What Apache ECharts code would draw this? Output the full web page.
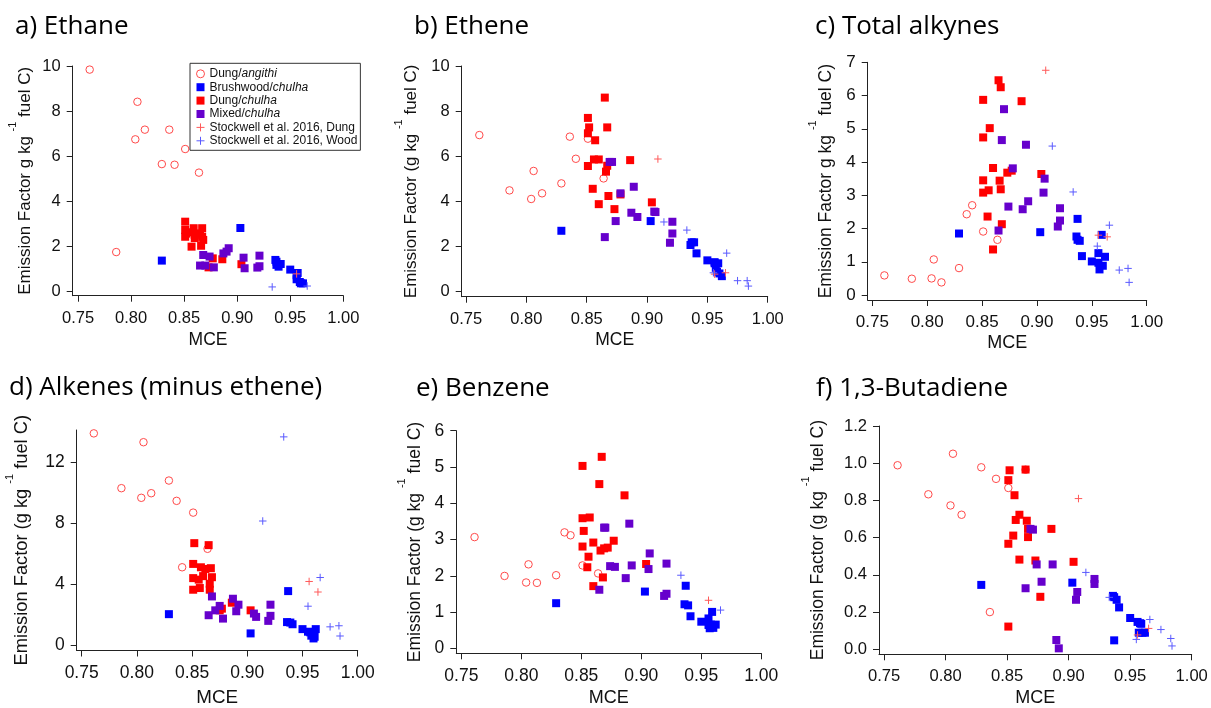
<!DOCTYPE html>
<html><head><meta charset="utf-8">
<script src="https://cdn.jsdelivr.net/npm/echarts@6/dist/echarts.min.js"></script>
<style>html,body{margin:0;padding:0;background:#fff}#c{width:1211px;height:708px}</style>
</head><body><div id="c"></div>
<script>
// ---------- DATA (MCE, emission factor g/kg fuel C) ----------
const seriesNames = ['Dung/angithi','Brushwood/chulha','Dung/chulha','Mixed/chulha','Stockwell et al. 2016, Dung','Stockwell et al. 2016, Wood'];
const panelTitles = ['a) Ethane','b) Ethene','c) Total alkynes','d) Alkenes (minus ethene)','e) Benzene','f) 1,3-Butadiene'];
const xTicks = [0.75,0.80,0.85,0.90,0.95,1.00];
const yTicksA = [0,2,4,6,8,10];
const yTicksB = [0,2,4,6,8,10];
const yTicksC = [0,1,2,3,4,5,6,7];
const yTicksD = [0,4,8,12];
const yTicksE = [0,1,2,3,4,5,6];
const yTicksF = [0,0.2,0.4,0.6,0.8,1.0,1.2];

// a) Ethane
const ethaneAngithi = [[0.761,9.84],[0.786,1.73],[0.804,6.74],[0.806,8.41],[0.813,7.17],[0.829,5.64],[0.836,7.17],[0.841,5.61],[0.851,6.31],[0.864,5.26]];
const ethaneBrush = [[0.829,1.35],[0.903,2.80],[0.936,1.38],[0.937,1.16],[0.937,1.30],[0.939,1.08],[0.941,1.20],[0.950,0.95],[0.956,0.70],[0.956,0.52],[0.957,0.80],[0.959,0.40],[0.960,0.34],[0.962,0.34]];
const ethaneDung = [[0.851,3.08],[0.851,2.71],[0.851,2.41],[0.852,2.55],[0.855,2.61],[0.857,1.97],[0.859,2.79],[0.860,2.49],[0.860,2.35],[0.865,2.56],[0.866,2.01],[0.867,2.79],[0.867,2.41],[0.868,2.27],[0.873,1.05],[0.877,1.45],[0.886,1.41],[0.904,1.19]];
const ethaneMixed = [[0.865,1.13],[0.868,1.60],[0.870,1.13],[0.874,1.53],[0.878,1.05],[0.887,1.67],[0.890,1.75],[0.892,1.90],[0.906,1.48],[0.907,1.01],[0.919,1.04],[0.921,1.57],[0.921,1.10]];
const ethaneStkDung = [[0.956,0.76]];
const ethaneStkWood = [[0.933,0.18],[0.966,0.22]];

// b) Ethene
const etheneAngithi = [[0.761,6.94],[0.786,4.49],[0.804,4.11],[0.806,5.35],[0.813,4.36],[0.829,4.80],[0.836,6.87],[0.841,5.89],[0.851,6.78],[0.864,5.02]];
const etheneBrush = [[0.829,2.70],[0.903,3.13],[0.936,2.07],[0.937,2.19],[0.939,2.19],[0.941,1.70],[0.950,1.39],[0.956,1.31],[0.956,1.26],[0.959,1.26],[0.957,1.06],[0.958,0.89],[0.960,0.81],[0.962,0.69]];
const etheneDung = [[0.865,8.60],[0.851,7.70],[0.852,7.28],[0.867,7.28],[0.851,7.02],[0.857,6.71],[0.851,5.57],[0.856,5.86],[0.860,5.86],[0.886,5.83],[0.867,5.58],[0.866,5.32],[0.855,4.56],[0.868,4.24],[0.860,3.88],[0.873,3.66],[0.878,4.31],[0.904,3.96]];
const etheneMixed = [[0.869,5.75],[0.871,5.75],[0.878,4.36],[0.889,4.65],[0.887,3.50],[0.892,3.31],[0.907,3.53],[0.906,3.55],[0.874,3.13],[0.921,3.10],[0.921,2.58],[0.919,2.17],[0.865,2.42]];
const etheneStkDung = [[0.909,5.88],[0.956,0.78],[0.965,0.84]];
const etheneStkWood = [[0.914,3.09],[0.933,2.73],[0.966,1.71],[0.955,0.84],[0.975,0.49],[0.983,0.49],[0.984,0.25]];

// c) Total alkynes
const alkynesAngithi = [[0.761,0.59],[0.786,0.49],[0.804,0.50],[0.806,1.07],[0.813,0.38],[0.829,0.81],[0.836,2.43],[0.841,2.70],[0.851,1.91],[0.864,1.66]];
const alkynesBrush = [[0.829,1.85],[0.903,1.89],[0.937,2.29],[0.936,1.76],[0.937,1.66],[0.939,1.63],[0.941,1.17],[0.950,1.01],[0.959,1.81],[0.956,1.26],[0.962,1.15],[0.960,0.88],[0.957,0.77],[0.956,0.97]];
const alkynesDung = [[0.851,5.87],[0.865,6.46],[0.867,6.25],[0.886,5.83],[0.857,5.02],[0.851,4.74],[0.860,3.82],[0.873,3.68],[0.877,3.74],[0.904,3.64],[0.851,3.45],[0.866,3.44],[0.851,3.08],[0.856,3.15],[0.867,3.18],[0.855,2.36],[0.868,2.13],[0.860,1.37]];
const alkynesMixed = [[0.870,5.59],[0.868,4.66],[0.890,4.52],[0.878,3.81],[0.907,3.50],[0.906,3.08],[0.892,2.82],[0.874,2.66],[0.887,2.58],[0.921,2.61],[0.921,2.24],[0.919,2.06],[0.865,1.94]];
const alkynesStkDung = [[0.908,6.76],[0.956,1.80],[0.964,1.75]];
const alkynesStkWood = [[0.914,4.48],[0.933,3.10],[0.966,2.10],[0.955,1.47],[0.975,0.75],[0.983,0.80],[0.984,0.38]];

// d) Alkenes (minus ethene)
const alkenesAngithi = [[0.761,13.88],[0.786,10.29],[0.804,9.66],[0.806,13.30],[0.813,9.96],[0.829,10.79],[0.836,9.46],[0.841,5.11],[0.851,8.69],[0.864,6.32]];
const alkenesBrush = [[0.829,2.04],[0.903,0.78],[0.937,3.55],[0.936,1.52],[0.939,1.49],[0.941,1.38],[0.950,1.06],[0.955,0.89],[0.957,0.85],[0.958,0.63],[0.960,0.45],[0.962,1.06],[0.959,0.84],[0.961,0.56]];
const alkenesDung = [[0.852,6.69],[0.865,6.56],[0.851,5.33],[0.858,5.11],[0.867,5.05],[0.862,5.00],[0.851,4.40],[0.860,4.53],[0.868,4.46],[0.856,4.30],[0.851,3.64],[0.857,3.75],[0.866,3.64],[0.866,4.03],[0.886,2.79],[0.875,2.29],[0.877,2.40],[0.903,2.29]];
const alkenesMixed = [[0.868,3.20],[0.875,2.58],[0.871,2.29],[0.865,1.97],[0.878,1.75],[0.887,3.05],[0.892,2.66],[0.890,2.23],[0.906,2.08],[0.908,1.86],[0.921,2.66],[0.921,1.93],[0.919,1.60]];
const alkenesStkDung = [[0.956,4.18],[0.964,3.49]];
const alkenesStkWood = [[0.933,13.65],[0.914,8.14],[0.966,4.44],[0.955,2.56],[0.975,1.21],[0.983,1.28],[0.984,0.61]];

// e) Benzene
const benzeneAngithi = [[0.761,3.07],[0.786,2.00],[0.804,1.82],[0.806,2.32],[0.813,1.81],[0.829,2.02],[0.836,3.20],[0.841,3.12],[0.851,2.29],[0.864,2.07]];
const benzeneBrush = [[0.829,1.25],[0.903,1.57],[0.937,1.73],[0.936,1.22],[0.939,1.19],[0.941,0.89],[0.950,0.74],[0.956,0.83],[0.959,1.01],[0.958,0.66],[0.962,0.66],[0.957,0.56],[0.960,0.57],[0.956,0.65]];
const benzeneDung = [[0.851,5.03],[0.867,5.28],[0.865,4.53],[0.886,4.22],[0.851,3.59],[0.857,3.61],[0.852,3.24],[0.860,2.92],[0.877,2.97],[0.851,2.81],[0.866,2.70],[0.869,2.76],[0.872,2.78],[0.856,2.53],[0.855,2.24],[0.868,1.96],[0.860,1.72],[0.904,2.33]];
const benzeneMixed = [[0.869,3.33],[0.870,3.33],[0.890,3.44],[0.907,2.62],[0.906,2.19],[0.921,2.34],[0.874,2.27],[0.878,2.25],[0.892,2.29],[0.887,1.94],[0.919,1.45],[0.921,1.51],[0.865,1.62]];
const benzeneStkDung = [[0.956,1.33]];
const benzeneStkWood = [[0.933,2.02],[0.966,1.06]];

// f) 1,3-Butadiene
const butadieneAngithi = [[0.761,0.989],[0.786,0.833],[0.804,0.773],[0.806,1.051],[0.813,0.723],[0.829,0.978],[0.836,0.200],[0.841,0.916],[0.851,0.867],[0.865,0.965]];
const butadieneBrush = [[0.829,0.346],[0.903,0.358],[0.936,0.287],[0.937,0.280],[0.939,0.266],[0.941,0.225],[0.950,0.168],[0.956,0.147],[0.959,0.137],[0.957,0.089],[0.962,0.089],[0.960,0.089],[0.937,0.048],[0.958,0.140]];
const butadieneDung = [[0.852,0.962],[0.865,0.966],[0.851,0.909],[0.856,0.828],[0.860,0.723],[0.857,0.695],[0.866,0.691],[0.867,0.647],[0.867,0.603],[0.855,0.611],[0.851,0.567],[0.886,0.647],[0.860,0.482],[0.873,0.477],[0.904,0.470],[0.877,0.282],[0.851,0.122]];
const butadieneMixed = [[0.869,0.647],[0.871,0.643],[0.874,0.456],[0.887,0.456],[0.878,0.363],[0.865,0.328],[0.907,0.308],[0.906,0.266],[0.921,0.378],[0.921,0.351],[0.890,0.050],[0.892,0.005]];
const butadieneStkDung = [[0.908,0.810],[0.956,0.077],[0.965,0.112]];
const butadieneStkWood = [[0.914,0.413],[0.933,0.279],[0.966,0.160],[0.975,0.106],[0.983,0.058],[0.984,0.018],[0.955,0.053]];

const panelData = [
  [ethaneAngithi, ethaneBrush, ethaneDung, ethaneMixed, ethaneStkDung, ethaneStkWood],
  [etheneAngithi, etheneBrush, etheneDung, etheneMixed, etheneStkDung, etheneStkWood],
  [alkynesAngithi, alkynesBrush, alkynesDung, alkynesMixed, alkynesStkDung, alkynesStkWood],
  [alkenesAngithi, alkenesBrush, alkenesDung, alkenesMixed, alkenesStkDung, alkenesStkWood],
  [benzeneAngithi, benzeneBrush, benzeneDung, benzeneMixed, benzeneStkDung, benzeneStkWood],
  [butadieneAngithi, butadieneBrush, butadieneDung, butadieneMixed, butadieneStkDung, butadieneStkWood]
];
const panelYTicks = [yTicksA, yTicksB, yTicksC, yTicksD, yTicksE, yTicksF];

// ---------- LAYOUT / STYLE ----------
const FONT = "'Liberation Sans', Arial, sans-serif";
const layout = [
  {left:72.7, top:66, width:270.6, height:229.7, xMin:0.745, yMin:-0.21, yMax:10, tickFont:16.5, nameFont:17, yGap:29.7, xGap:35, tl:15, tt:13.5, paren:false, dec:0},
  {left:461.7, top:66, width:306, height:230.7, xMin:0.7464, yMin:-0.22, yMax:10, tickFont:16.5, nameFont:17, yGap:32, xGap:34, tl:414, tt:13.5, paren:true, dec:0},
  {left:867.7, top:62.3, width:279, height:237.7, xMin:0.7458, yMin:-0.15, yMax:7, tickFont:17, nameFont:17.5, yGap:24, xGap:34, tl:815, tt:13.5, paren:false, dec:0},
  {left:76.7, top:430, width:281, height:222.3, xMin:0.7455, yMin:-0.34, yMax:14.1, tickFont:17.5, nameFont:18.3, yGap:36.5, xGap:37.5, tl:9, tt:374.5, paren:true, dec:0},
  {left:456.3, top:430.7, width:305, height:224.3, xMin:0.7458, yMin:-0.13, yMax:6, tickFont:17.5, nameFont:17.5, yGap:23.6, xGap:35.7, tl:416, tt:375.3, paren:true, dec:0},
  {left:879, top:426, width:312.7, height:230.7, xMin:0.7459, yMin:-0.027, yMax:1.2, tickFont:16.6, nameFont:17.5, yGap:42.7, xGap:34.7, tl:816, tt:375.7, paren:true, dec:1}
];
const CROSS = 'path://M0,5L10,5M5,0L5,10';
const markStyles = [
  {symbol:'circle', size:7.5, itemStyle:{color:'rgba(255,255,255,0)', borderColor:'#ff4a4a', borderWidth:1, opacity:1}},
  {symbol:'rect', size:8, itemStyle:{color:'#0000ff', opacity:1}},
  {symbol:'rect', size:8, itemStyle:{color:'#ff0000', opacity:1}},
  {symbol:'rect', size:8, itemStyle:{color:'#6600cc', opacity:1}},
  {symbol:CROSS, size:7.5, itemStyle:{color:'rgba(255,255,255,0)', borderColor:'#ff5a5a', borderWidth:1, opacity:1}},
  {symbol:CROSS, size:7.5, itemStyle:{color:'rgba(255,255,255,0)', borderColor:'#5a5aff', borderWidth:1, opacity:1}}
];

const grids = [], xAxes = [], yAxes = [], series = [], titles = [];
layout.forEach((L, p) => {
  grids.push({left:L.left, top:L.top, width:L.width, height:L.height, containLabel:false});
  xAxes.push({
    type:'value', gridIndex:p, min:L.xMin, max:1.0,
    name:'MCE', nameLocation:'middle', nameGap:L.xGap,
    nameTextStyle:{fontFamily:FONT, fontSize:L.nameFont+0.5, color:'#111'},
    axisLine:{show:true, onZero:false, lineStyle:{color:'#222', width:1}},
    axisTick:{show:true, inside:false, length:6, customValues:xTicks, lineStyle:{color:'#222'}},
    axisLabel:{show:true, customValues:xTicks, margin:14, fontFamily:FONT, fontSize:L.tickFont, color:'#111',
      formatter:v => Number(v).toFixed(2)},
    splitLine:{show:false}
  });
  const nm = L.paren ? '{a|Emission Factor (g kg }{s|-1}{a| fuel C)}' : '{a|Emission Factor g kg }{s|-1}{a| fuel C)}';
  yAxes.push({
    type:'value', gridIndex:p, min:L.yMin, max:L.yMax,
    name:nm, nameLocation:'middle', nameGap:L.yGap,
    nameTextStyle:{fontFamily:FONT, fontSize:L.nameFont, color:'#111',
      rich:{a:{fontFamily:FONT, fontSize:L.nameFont, color:'#111', lineHeight:36},
            s:{fontFamily:FONT, fontSize:11, color:'#111', lineHeight:10, verticalAlign:'top'}}},
    axisLine:{show:true, onZero:false, lineStyle:{color:'#222', width:1}},
    axisTick:{show:true, inside:false, length:6, customValues:panelYTicks[p], lineStyle:{color:'#222'}},
    axisLabel:{show:true, customValues:panelYTicks[p], margin:12, fontFamily:FONT, fontSize:L.tickFont, color:'#111',
      formatter:v => Number(v).toFixed(L.dec)},
    splitLine:{show:false}
  });
  titles.push({text:panelTitles[p], left:L.tl, top:L.tt, padding:0,
    textStyle:{fontFamily:'Open Sans', fontSize:26, fontWeight:'normal', color:'#000'}});
  panelData[p].forEach((d, s) => {
    series.push({
      type:'scatter', name:seriesNames[s], xAxisIndex:p, yAxisIndex:p, data:d,
      symbol:markStyles[s].symbol, symbolSize:markStyles[s].size,
      itemStyle:markStyles[s].itemStyle, emphasis:{disabled:true}, z:2+s
    });
  });
});

const legendFormat = {
  'Dung/angithi':'{n|Dung/}{i|angithi}',
  'Brushwood/chulha':'{n|Brushwood/}{i|chulha}',
  'Dung/chulha':'{n|Dung/}{i|chulha}',
  'Mixed/chulha':'{n|Mixed/}{i|chulha}',
  'Stockwell et al. 2016, Dung':'{n|Stockwell et al. 2016, Dung}',
  'Stockwell et al. 2016, Wood':'{n|Stockwell et al. 2016, Wood}'
};

const chart = echarts.init(document.getElementById('c'), null, {renderer:'canvas'});
chart.setOption({
  animation:false,
  backgroundColor:'#fff',
  title:titles,
  grid:grids, xAxis:xAxes, yAxis:yAxes,
  legend:{
    show:true, orient:'vertical', left:190, top:63.3,
    padding:[4,3,3,6], borderColor:'#333', borderWidth:1, backgroundColor:'#fff',
    itemWidth:8, itemHeight:8, itemGap:0.4, selectedMode:false,
    data:seriesNames.map((n, i) => ({name:n, icon:markStyles[i].symbol, itemStyle:markStyles[i].itemStyle})),
    formatter:n => legendFormat[n],
    textStyle:{fontFamily:FONT, fontSize:12, color:'#111', lineHeight:13,
      rich:{n:{fontFamily:FONT, fontSize:12, color:'#111', lineHeight:13},
            i:{fontFamily:FONT, fontSize:12, fontStyle:'italic', color:'#111', lineHeight:13}}}
  },
  series:series
});
</script>
</body></html>
